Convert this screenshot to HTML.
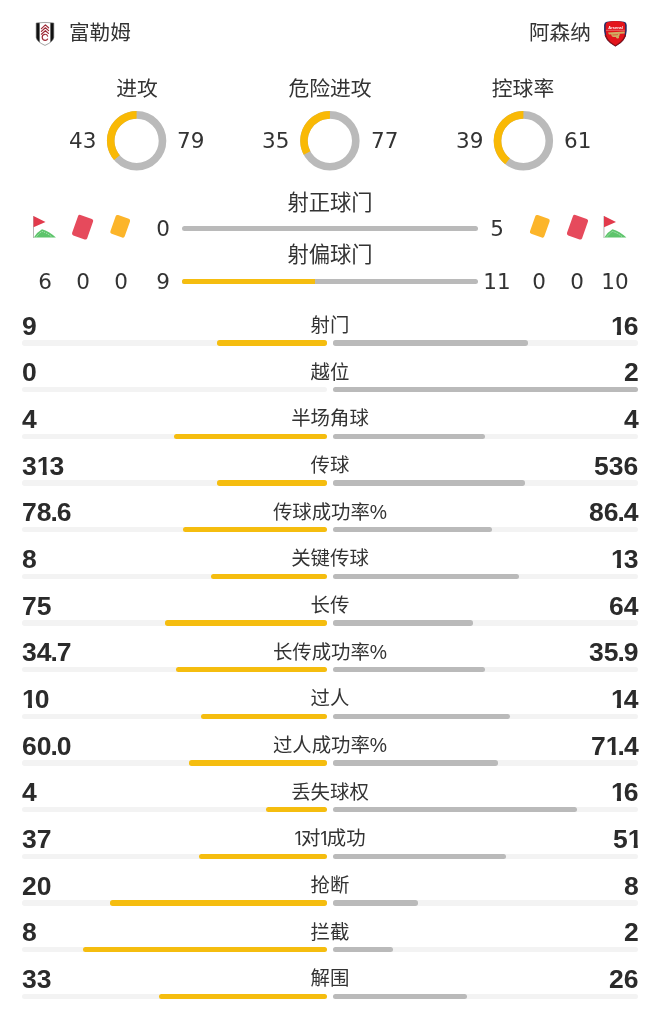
<!DOCTYPE html>
<html lang="zh-CN"><head><meta charset="utf-8"><title>富勒姆 vs 阿森纳 技术统计</title>
<style>
*{margin:0;padding:0;box-sizing:border-box}
html,body{width:660px;height:1034px;background:#fff;overflow:hidden}
body{position:relative;font-family:"Liberation Sans","Noto Sans CJK SC",sans-serif;color:#333}
.abs{position:absolute;white-space:nowrap;will-change:transform}
.team{font-size:20.6px;line-height:20.6px;top:23.2px;color:#333}
.dt{font-size:20.8px;line-height:20.8px;top:79.2px;width:200px;text-align:center;color:#333}
.dn{font-family:"DejaVu Sans","Noto Sans CJK SC",sans-serif;font-size:21.5px;line-height:21.5px;top:129.7px;color:#333}
.sn{font-family:"DejaVu Sans","Noto Sans CJK SC",sans-serif;font-size:21.5px;line-height:21.5px;width:40px;text-align:center;color:#333}
.st{font-size:21.3px;line-height:21.3px;width:200px;left:229.8px;text-align:center;color:#333}
.num{font-family:"Liberation Sans",sans-serif;font-weight:bold;font-size:26.5px;line-height:20px;color:#2b2b2b}
.num .one{display:inline-block;margin:0 -2px 0 0;clip-path:polygon(0 0,10px 0,10px 100%,5.9px 100%,5.9px 11px,0 11px)}
.num .one.last{margin-right:-3.6px}
.num .dot{margin:0 -1px}
.lab{font-size:19.4px;line-height:19.4px;width:200px;left:229.8px;text-align:center;color:#333}
.bar{position:absolute;height:5.4px;border-radius:2.7px}

.lab .n1{display:inline-block;margin:0 -3.3px 0 -1px;clip-path:polygon(0 0,7.1px 0,7.1px 100%,4.9px 100%,4.9px 13.5px,0 13.5px)}

</style></head><body>
<div class="abs team" style="left:69.2px">富勒姆</div>
<div class="abs team" style="right:69.3px;text-align:right">阿森纳</div>
<svg class="abs" style="left:0;top:0" width="660" height="300" viewBox="0 0 660 300">
<circle cx="136.6" cy="140.8" r="25.9" fill="none" stroke="#BABABA" stroke-width="7.6"/><path d="M136.6 114.9 A25.9 25.9 0 0 0 116.91 157.62" fill="none" stroke="#F9B905" stroke-width="7.6"/>
<circle cx="329.9" cy="140.8" r="25.9" fill="none" stroke="#BABABA" stroke-width="7.6"/><path d="M329.9 114.9 A25.9 25.9 0 0 0 307.03 152.96" fill="none" stroke="#F9B905" stroke-width="7.6"/>
<circle cx="523.4" cy="140.8" r="25.9" fill="none" stroke="#BABABA" stroke-width="7.6"/><path d="M523.4 114.9 A25.9 25.9 0 0 0 507.56 161.29" fill="none" stroke="#F9B905" stroke-width="7.6"/>
<defs>
<clipPath id="fs"><path d="M36.2 23 Q45 21.9 53.8 23 L53.8 37.2 Q53.6 41.6 45 45.4 Q36.4 41.6 36.2 37.2 Z"/></clipPath>
<clipPath id="as2"><path d="M604.1 25 Q604.2 22.4 606.8 21.8 Q615.4 20.2 624 21.8 Q626.6 22.4 626.7 25 L626.7 31 Q626.4 41 615.4 46.5 Q604.4 41 604.1 31 Z"/></clipPath>
<clipPath id="as"><path d="M604.4 22.6 Q615.4 20.2 626.4 22.6 L626.4 31.8 Q626.2 40.5 615.4 46.3 Q604.6 40.5 604.4 31.8 Z"/></clipPath>
</defs>
<!-- Fulham crest -->
<path d="M36.2 23 Q45 21.9 53.8 23 L53.8 37.2 Q53.6 41.6 45 45.4 Q36.4 41.6 36.2 37.2 Z" fill="#fff"/>
<g clip-path="url(#fs)">
<rect x="35" y="21" width="4.6" height="26" fill="#111"/>
<rect x="50.4" y="21" width="4.6" height="26" fill="#111"/>
</g>
<path d="M36.2 23 Q45 21.9 53.8 23 L53.8 37.2 Q53.6 41.6 45 45.4 Q36.4 41.6 36.2 37.2 Z" fill="none" stroke="#666" stroke-width="0.6"/>
<g fill="none" stroke="#9e2a36" stroke-width="1.2" stroke-linecap="round" stroke-linejoin="round">
<path d="M41.4 28.6 L45.4 24.9 L48.6 27.8"/>
<path d="M41.4 31.4 L45.4 27.8 L48.6 30.6"/>
<path d="M41.4 34.2 L45.4 30.7 L48.4 33.4"/>
<path d="M47.6 36.2 Q47 34 44.6 34.3 Q42 34.8 42.2 37.5 Q42.5 40.4 45.2 40.4 Q47 40.3 47.6 39"/>
</g>
<!-- Arsenal crest -->
<path d="M604.1 25 Q604.2 22.4 606.8 21.8 Q615.4 20.2 624 21.8 Q626.6 22.4 626.7 25 L626.7 31 Q626.4 41 615.4 46.5 Q604.4 41 604.1 31 Z" fill="#1d2a66"/>
<path d="M603 35 L628 35 L628 48 L603 48 Z" fill="#8c1016" clip-path="url(#as2)"/>
<path d="M605.6 25 Q605.7 22.3 607.9 21.9 Q615.4 20.3 622.9 21.9 Q625.1 22.3 625.2 25 L625.2 31.2 Q625 40 615.4 45.2 Q605.8 40 605.6 31.2 Z" fill="#e3141c"/>
<text x="615.6" y="28.5" font-family="Liberation Sans, sans-serif" font-weight="bold" font-size="4.4" fill="#fff" text-anchor="middle" textLength="14.5" lengthAdjust="spacingAndGlyphs">Arsenal</text>
<rect x="606" y="29.9" width="18.8" height="0.5" fill="#f2b8b0"/>
<g fill="#cfae63">
<path d="M608 32.4 L624.6 31.6 L624.6 33.4 L609 34.4 Z"/>
<path d="M611 34.2 L620 33.6 L619.2 36.2 Q615 37.8 612 36.4 Z"/>
<circle cx="617.6" cy="37.2" r="1.4"/>
</g>
<path d="M612.6 35 L618 34.6" stroke="#e3141c" stroke-width="0.5"/>
<!-- corner flag left -->
<g id="flagL">
<rect x="33" y="216" width="0.9" height="22" fill="#b0b0b0"/>
<path d="M33.5 216 L45.5 222.1 L33.5 227.3 Z" fill="#e23a4c"/>
<path d="M33.8 237.6 Q37 232 42 229.2 Q49 231 55.9 237.6 Z" fill="#5dc46b"/>
<path d="M36.5 236.6 Q39.5 233 42 231.4 Q47 233 51.5 236.6" fill="none" stroke="#d8f5dc" stroke-width="0.7" stroke-dasharray="1.4 1"/>
</g>
<!-- red card left -->
<rect x="74.6" y="216.4" width="16" height="21.6" rx="2" fill="#e64a5c" transform="rotate(19.5 82.6 227.2)"/>
<!-- yellow card left -->
<rect x="112.6" y="216.4" width="15.2" height="19.8" rx="2" fill="#fcb52a" transform="rotate(19.5 120.2 226.3)"/>
<!-- right side mirrored positions -->
<rect x="532.2" y="216.4" width="15.2" height="19.8" rx="2" fill="#fcb52a" transform="rotate(19.5 539.8 226.3)"/>
<rect x="569.5" y="216.4" width="16" height="21.6" rx="2" fill="#e64a5c" transform="rotate(19.5 577.5 227.2)"/>
<g transform="translate(570.5 0)">
<rect x="33" y="216" width="0.9" height="22" fill="#b0b0b0"/>
<path d="M33.5 216 L45.5 222.1 L33.5 227.3 Z" fill="#e23a4c"/>
<path d="M33.8 237.6 Q37 232 42 229.2 Q49 231 55.9 237.6 Z" fill="#5dc46b"/>
<path d="M36.5 236.6 Q39.5 233 42 231.4 Q47 233 51.5 236.6" fill="none" stroke="#d8f5dc" stroke-width="0.7" stroke-dasharray="1.4 1"/>
</g>

</svg>
<div class="abs dt" style="left:36.599999999999994px">进攻</div>
<div class="abs dn" style="right:563.7px">43</div>
<div class="abs dn" style="left:177.2px">79</div>
<div class="abs dt" style="left:229.89999999999998px">危险进攻</div>
<div class="abs dn" style="right:370.4px">35</div>
<div class="abs dn" style="left:370.5px">77</div>
<div class="abs dt" style="left:423.4px">控球率</div>
<div class="abs dn" style="right:176.9px">39</div>
<div class="abs dn" style="left:564.0px">61</div>
<div class="abs st" style="top:192.5px">射正球门</div>
<div class="abs st" style="top:245px">射偏球门</div>
<div class="bar" style="left:182px;width:295.5px;top:226px;background:#BABABA"></div>
<div class="bar" style="left:182px;width:295.5px;top:279px;background:#BABABA"></div>
<div class="bar" style="left:182px;width:133.0px;top:279px;background:#F5BD0F;border-radius:2.5px 0 0 2.5px"></div>
<div class="abs sn" style="left:24.8px;top:270.5px">6</div>
<div class="abs sn" style="left:62.8px;top:270.5px">0</div>
<div class="abs sn" style="left:100.9px;top:270.5px">0</div>
<div class="abs sn" style="left:143.2px;top:270.5px">9</div>
<div class="abs sn" style="left:595.2px;top:270.5px">10</div>
<div class="abs sn" style="left:557.2px;top:270.5px">0</div>
<div class="abs sn" style="left:519.1px;top:270.5px">0</div>
<div class="abs sn" style="left:476.8px;top:270.5px">11</div>
<div class="abs sn" style="left:143.2px;top:217.5px">0</div>
<div class="abs sn" style="left:476.8px;top:217.5px">5</div>
<div class="abs num" style="left:21.6px;top:315.6px">9</div>
<div class="abs num" style="right:21.6px;top:315.6px"><span class="one">1</span>6</div>
<div class="abs lab" style="top:316.1px">射门</div>
<div class="bar" style="left:21.5px;width:305.3px;top:340.3px;background:#F3F3F3"></div>
<div class="bar" style="left:332.9px;width:305.3px;top:340.3px;background:#F3F3F3"></div>
<div class="bar" style="left:217.1px;width:109.7px;top:340.3px;background:#F5BD0F"></div>
<div class="bar" style="left:332.9px;width:195.4px;top:340.3px;background:#BABABA"></div>
<div class="abs num" style="left:21.6px;top:362.3px">0</div>
<div class="abs num" style="right:21.6px;top:362.3px">2</div>
<div class="abs lab" style="top:362.8px">越位</div>
<div class="bar" style="left:21.5px;width:305.3px;top:387.0px;background:#F3F3F3"></div>
<div class="bar" style="left:332.9px;width:305.3px;top:387.0px;background:#F3F3F3"></div>
<div class="bar" style="left:332.9px;width:305.3px;top:387.0px;background:#BABABA"></div>
<div class="abs num" style="left:21.6px;top:408.9px">4</div>
<div class="abs num" style="right:21.6px;top:408.9px">4</div>
<div class="abs lab" style="top:409.4px">半场角球</div>
<div class="bar" style="left:21.5px;width:305.3px;top:433.6px;background:#F3F3F3"></div>
<div class="bar" style="left:332.9px;width:305.3px;top:433.6px;background:#F3F3F3"></div>
<div class="bar" style="left:174.4px;width:152.4px;top:433.6px;background:#F5BD0F"></div>
<div class="bar" style="left:332.9px;width:152.3px;top:433.6px;background:#BABABA"></div>
<div class="abs num" style="left:21.6px;top:455.6px">3<span class="one">1</span>3</div>
<div class="abs num" style="right:21.6px;top:455.6px">536</div>
<div class="abs lab" style="top:456.1px">传球</div>
<div class="bar" style="left:21.5px;width:305.3px;top:480.3px;background:#F3F3F3"></div>
<div class="bar" style="left:332.9px;width:305.3px;top:480.3px;background:#F3F3F3"></div>
<div class="bar" style="left:216.8px;width:110.0px;top:480.3px;background:#F5BD0F"></div>
<div class="bar" style="left:332.9px;width:192.1px;top:480.3px;background:#BABABA"></div>
<div class="abs num" style="left:21.6px;top:502.2px">78<span class="dot">.</span>6</div>
<div class="abs num" style="right:21.6px;top:502.2px">86<span class="dot">.</span>4</div>
<div class="abs lab" style="top:502.7px">传球成功率%</div>
<div class="bar" style="left:21.5px;width:305.3px;top:526.9px;background:#F3F3F3"></div>
<div class="bar" style="left:332.9px;width:305.3px;top:526.9px;background:#F3F3F3"></div>
<div class="bar" style="left:183.0px;width:143.8px;top:526.9px;background:#F5BD0F"></div>
<div class="bar" style="left:332.9px;width:158.9px;top:526.9px;background:#BABABA"></div>
<div class="abs num" style="left:21.6px;top:548.9px">8</div>
<div class="abs num" style="right:21.6px;top:548.9px"><span class="one">1</span>3</div>
<div class="abs lab" style="top:549.4px">关键传球</div>
<div class="bar" style="left:21.5px;width:305.3px;top:573.6px;background:#F3F3F3"></div>
<div class="bar" style="left:332.9px;width:305.3px;top:573.6px;background:#F3F3F3"></div>
<div class="bar" style="left:210.9px;width:115.9px;top:573.6px;background:#F5BD0F"></div>
<div class="bar" style="left:332.9px;width:185.9px;top:573.6px;background:#BABABA"></div>
<div class="abs num" style="left:21.6px;top:595.6px">75</div>
<div class="abs num" style="right:21.6px;top:595.6px">64</div>
<div class="abs lab" style="top:596.1px">长传</div>
<div class="bar" style="left:21.5px;width:305.3px;top:620.3px;background:#F3F3F3"></div>
<div class="bar" style="left:332.9px;width:305.3px;top:620.3px;background:#F3F3F3"></div>
<div class="bar" style="left:165.0px;width:161.8px;top:620.3px;background:#F5BD0F"></div>
<div class="bar" style="left:332.9px;width:140.3px;top:620.3px;background:#BABABA"></div>
<div class="abs num" style="left:21.6px;top:642.2px">34<span class="dot">.</span>7</div>
<div class="abs num" style="right:21.6px;top:642.2px">35<span class="dot">.</span>9</div>
<div class="abs lab" style="top:642.7px">长传成功率%</div>
<div class="bar" style="left:21.5px;width:305.3px;top:666.9px;background:#F3F3F3"></div>
<div class="bar" style="left:332.9px;width:305.3px;top:666.9px;background:#F3F3F3"></div>
<div class="bar" style="left:176.4px;width:150.4px;top:666.9px;background:#F5BD0F"></div>
<div class="bar" style="left:332.9px;width:152.6px;top:666.9px;background:#BABABA"></div>
<div class="abs num" style="left:21.6px;top:688.9px"><span class="one">1</span>0</div>
<div class="abs num" style="right:21.6px;top:688.9px"><span class="one">1</span>4</div>
<div class="abs lab" style="top:689.4px">过人</div>
<div class="bar" style="left:21.5px;width:305.3px;top:713.6px;background:#F3F3F3"></div>
<div class="bar" style="left:332.9px;width:305.3px;top:713.6px;background:#F3F3F3"></div>
<div class="bar" style="left:201.2px;width:125.6px;top:713.6px;background:#F5BD0F"></div>
<div class="bar" style="left:332.9px;width:177.4px;top:713.6px;background:#BABABA"></div>
<div class="abs num" style="left:21.6px;top:735.5px">60<span class="dot">.</span>0</div>
<div class="abs num" style="right:21.6px;top:735.5px">7<span class="one">1</span><span class="dot">.</span>4</div>
<div class="abs lab" style="top:736.0px">过人成功率%</div>
<div class="bar" style="left:21.5px;width:305.3px;top:760.2px;background:#F3F3F3"></div>
<div class="bar" style="left:332.9px;width:305.3px;top:760.2px;background:#F3F3F3"></div>
<div class="bar" style="left:189.1px;width:137.7px;top:760.2px;background:#F5BD0F"></div>
<div class="bar" style="left:332.9px;width:164.7px;top:760.2px;background:#BABABA"></div>
<div class="abs num" style="left:21.6px;top:782.2px">4</div>
<div class="abs num" style="right:21.6px;top:782.2px"><span class="one">1</span>6</div>
<div class="abs lab" style="top:782.7px">丢失球权</div>
<div class="bar" style="left:21.5px;width:305.3px;top:806.9px;background:#F3F3F3"></div>
<div class="bar" style="left:332.9px;width:305.3px;top:806.9px;background:#F3F3F3"></div>
<div class="bar" style="left:266.1px;width:60.7px;top:806.9px;background:#F5BD0F"></div>
<div class="bar" style="left:332.9px;width:244.1px;top:806.9px;background:#BABABA"></div>
<div class="abs num" style="left:21.6px;top:828.9px">37</div>
<div class="abs num" style="right:21.6px;top:828.9px">5<span class="one last">1</span></div>
<div class="abs lab" style="top:829.4px"><span class="n1">1</span>对<span class="n1">1</span>成功</div>
<div class="bar" style="left:21.5px;width:305.3px;top:853.6px;background:#F3F3F3"></div>
<div class="bar" style="left:332.9px;width:305.3px;top:853.6px;background:#F3F3F3"></div>
<div class="bar" style="left:198.5px;width:128.3px;top:853.6px;background:#F5BD0F"></div>
<div class="bar" style="left:332.9px;width:173.5px;top:853.6px;background:#BABABA"></div>
<div class="abs num" style="left:21.6px;top:875.5px">20</div>
<div class="abs num" style="right:21.6px;top:875.5px">8</div>
<div class="abs lab" style="top:876.0px">抢断</div>
<div class="bar" style="left:21.5px;width:305.3px;top:900.2px;background:#F3F3F3"></div>
<div class="bar" style="left:332.9px;width:305.3px;top:900.2px;background:#F3F3F3"></div>
<div class="bar" style="left:110.3px;width:216.5px;top:900.2px;background:#F5BD0F"></div>
<div class="bar" style="left:332.9px;width:84.7px;top:900.2px;background:#BABABA"></div>
<div class="abs num" style="left:21.6px;top:922.2px">8</div>
<div class="abs num" style="right:21.6px;top:922.2px">2</div>
<div class="abs lab" style="top:922.7px">拦截</div>
<div class="bar" style="left:21.5px;width:305.3px;top:946.9px;background:#F3F3F3"></div>
<div class="bar" style="left:332.9px;width:305.3px;top:946.9px;background:#F3F3F3"></div>
<div class="bar" style="left:82.6px;width:244.2px;top:946.9px;background:#F5BD0F"></div>
<div class="bar" style="left:332.9px;width:60.6px;top:946.9px;background:#BABABA"></div>
<div class="abs num" style="left:21.6px;top:968.8px">33</div>
<div class="abs num" style="right:21.6px;top:968.8px">26</div>
<div class="abs lab" style="top:969.3px">解围</div>
<div class="bar" style="left:21.5px;width:305.3px;top:993.5px;background:#F3F3F3"></div>
<div class="bar" style="left:332.9px;width:305.3px;top:993.5px;background:#F3F3F3"></div>
<div class="bar" style="left:159.3px;width:167.5px;top:993.5px;background:#F5BD0F"></div>
<div class="bar" style="left:332.9px;width:134.1px;top:993.5px;background:#BABABA"></div>
</body></html>
